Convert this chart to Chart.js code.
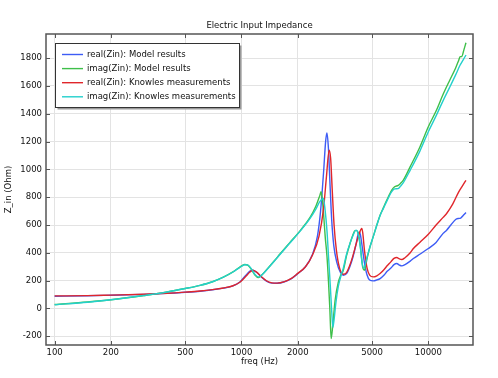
<!DOCTYPE html>
<html>
<head>
<meta charset="utf-8">
<script src="https://cdn.jsdelivr.net/npm/chart.js@4/dist/chart.umd.min.js"></script>
<style>
  body { margin: 0; background: #fff; }
  canvas { display: block; }
</style>
</head>
<body>
<canvas id="chart" width="498" height="378"></canvas>
<script>
const FONT = { family: 'DejaVu Sans', size: 8.5 };
const TEXT_COLOR = '#111111';
const GRID_COLOR = '#e3e3e3';
const FRAME_COLOR = '#555555';

const xTicks = [100, 200, 500, 1000, 2000, 5000, 10000];
const yTicks = [-200, 0, 200, 400, 600, 800, 1000, 1200, 1400, 1600, 1800];

// real(Zin) model
const realModelFreq = [100, 150, 200, 300, 400, 500, 600, 700, 800, 900, 980, 1050, 1110, 1150, 1200, 1280, 1360, 1450, 1550, 1700, 1850, 2000, 2200, 2400, 2550, 2650, 2750, 2820, 2866, 2920, 2980, 3040, 3120, 3240, 3380, 3508, 3650, 3800, 3950, 4100, 4200, 4276, 4330, 4400, 4550, 4700, 4850, 5081, 5300, 5518, 5800, 6000, 6300, 6550, 6776, 7000, 7210, 7500, 8000, 8318, 9000, 10000, 11000, 12000, 12530, 13200, 14000, 14450, 14900, 15400, 15900];
const realModel = [88, 91, 95, 101, 108, 116, 124, 134, 146, 162, 190, 235, 268, 275, 262, 225, 197, 182, 181, 192, 215, 250, 300, 390, 520, 700, 980, 1200, 1263, 1150, 880, 635, 450, 330, 260, 239, 250, 300, 370, 460, 530, 551, 530, 470, 330, 240, 205, 198, 205, 215, 240, 265, 290, 315, 323, 312, 306, 315, 340, 359, 390, 431, 475, 540, 563, 600, 640, 647, 650, 670, 690];

// imag(Zin) model
const imagModelFreq = [100, 150, 200, 300, 400, 500, 600, 700, 800, 900, 980, 1040, 1080, 1130, 1180, 1230, 1300, 1400, 1500, 1611, 1800, 2061, 2328, 2500, 2630, 2667, 2700, 2760, 2806, 2866, 2920, 2970, 3020, 3080, 3170, 3300, 3400, 3508, 3650, 3811, 3950, 4050, 4150, 4250, 4350, 4450, 4548, 4700, 4875, 5081, 5300, 5518, 5750, 5995, 6370, 6600, 6900, 7100, 7350, 8000, 9000, 10000, 11000, 12000, 13000, 14000, 14500, 14800, 15100, 15500, 15900];
const imagModel = [28, 46, 62, 93, 118, 143, 166, 192, 225, 263, 297, 316, 312, 280, 240, 222, 248, 297, 343, 393, 468, 560, 655, 735, 815, 839, 800, 650, 515, 380, 200, 0, -217, -120, 59, 190, 240, 275, 380, 467, 530, 560, 560, 520, 420, 300, 275, 360, 443, 520, 600, 671, 725, 779, 851, 875, 885, 900, 923, 1020, 1160, 1307, 1420, 1540, 1640, 1730, 1780, 1811, 1812, 1860, 1911];

// real(Zin) Knowles measurements
const realMeasFreq = [100, 150, 200, 300, 400, 500, 600, 700, 800, 900, 980, 1050, 1110, 1151, 1200, 1280, 1360, 1455, 1550, 1700, 1850, 2000, 2200, 2400, 2600, 2750, 2850, 2945, 3000, 3060, 3130, 3220, 3350, 3508, 3650, 3800, 3950, 4100, 4250, 4404, 4460, 4550, 4700, 4850, 5081, 5300, 5518, 5800, 6000, 6300, 6550, 6776, 7000, 7210, 7500, 8000, 8318, 9000, 10000, 11000, 12000, 12530, 13500, 14500, 15200, 15900];
const realMeas = [90, 92, 96, 102, 109, 117, 125, 135, 147, 163, 188, 228, 262, 275, 263, 228, 199, 184, 182, 193, 216, 252, 300, 385, 520, 720, 950, 1139, 1080, 850, 600, 420, 290, 246, 258, 310, 380, 460, 530, 575, 540, 420, 290, 240, 227, 235, 251, 280, 305, 335, 360, 366, 356, 352, 365, 400, 431, 475, 534, 600, 655, 683, 750, 835, 880, 922];

// imag(Zin) Knowles measurements
const imagMeasFreq = [100, 150, 200, 300, 400, 500, 600, 700, 800, 900, 980, 1040, 1080, 1130, 1180, 1240, 1300, 1400, 1500, 1611, 1800, 2061, 2328, 2500, 2630, 2745, 2806, 2866, 2930, 2990, 3040, 3083, 3130, 3200, 3300, 3400, 3508, 3650, 3811, 3950, 4103, 4180, 4300, 4420, 4520, 4700, 4875, 5081, 5300, 5518, 5750, 5995, 6370, 6600, 6900, 7100, 7350, 8000, 9000, 10000, 11000, 12000, 13000, 14000, 14800, 15400, 15900];
const imagMeas = [27, 45, 62, 93, 118, 143, 166, 192, 225, 262, 295, 314, 313, 285, 245, 225, 247, 295, 341, 390, 465, 556, 648, 715, 770, 791, 700, 563, 350, 155, -20, -137, -80, 40, 160, 230, 290, 390, 470, 525, 563, 550, 470, 330, 290, 370, 445, 520, 598, 668, 720, 772, 840, 860, 862, 880, 905, 995, 1130, 1271, 1385, 1495, 1590, 1680, 1751, 1790, 1823];

const seriesNames = ['real(Zin): Model results', 'imag(Zin): Model results', 'real(Zin): Knowles measurements', 'imag(Zin): Knowles measurements'];
const seriesColors = ['#3d5cf5', '#3fbf4a', '#e0262b', '#23d0cc'];

const toPoints = (fs, vs) => fs.map((f, i) => ({ x: f, y: vs[i] }));
const seriesData = [
  toPoints(realModelFreq, realModel),
  toPoints(imagModelFreq, imagModel),
  toPoints(realMeasFreq, realMeas),
  toPoints(imagMeasFreq, imagMeas),
];

// plot title, inward ticks and the boxed legend
const decorations = {
  id: 'decorations',
  afterDraw(chart) {
    const { ctx, chartArea: a, scales } = chart;
    ctx.save();
    ctx.fillStyle = TEXT_COLOR;
    ctx.font = `${FONT.size}px "${FONT.family}"`;
    ctx.textAlign = 'center';
    ctx.textBaseline = 'middle';
    ctx.fillText('Electric Input Impedance', (a.left + a.right) / 2, 26);

    ctx.strokeStyle = FRAME_COLOR;
    ctx.lineWidth = 1;
    ctx.beginPath();
    xTicks.forEach(v => {
      const x = Math.round(scales.x.getPixelForValue(v)) + 0.5;
      ctx.moveTo(x, a.bottom); ctx.lineTo(x, a.bottom - 4);
      ctx.moveTo(x, a.top); ctx.lineTo(x, a.top + 4);
    });
    yTicks.forEach(v => {
      const y = Math.round(scales.y.getPixelForValue(v)) + 0.5;
      ctx.moveTo(a.left, y); ctx.lineTo(a.left + 4, y);
      ctx.moveTo(a.right, y); ctx.lineTo(a.right - 4, y);
    });
    ctx.stroke();
    ctx.lineWidth = 1.5;
    ctx.strokeRect(a.left, a.top, a.right - a.left, a.bottom - a.top);

    // legend
    const lx = 55.5, ly = 43.5, lw = 184, lh = 64;
    ctx.fillStyle = '#9a9a9a';
    ctx.fillRect(lx + 2, ly + 2, lw, lh);
    ctx.fillStyle = '#ffffff';
    ctx.fillRect(lx, ly, lw, lh);
    ctx.strokeStyle = '#333333';
    ctx.lineWidth = 1;
    ctx.strokeRect(lx, ly, lw, lh);
    ctx.textAlign = 'left';
    seriesNames.forEach((name, i) => {
      const y = 54.5 + i * 14.1;
      ctx.strokeStyle = seriesColors[i];
      ctx.lineWidth = 1.4;
      ctx.beginPath();
      ctx.moveTo(62, y); ctx.lineTo(83, y);
      ctx.stroke();
      ctx.fillStyle = TEXT_COLOR;
      ctx.fillText(name, 87, y);
    });
    ctx.restore();
  }
};

new Chart(document.getElementById('chart'), {
  type: 'line',
  data: {
    datasets: seriesNames.map((name, i) => ({
      label: name,
      data: seriesData[i],
      borderColor: seriesColors[i],
      borderWidth: 1.4,
      pointRadius: 0,
      fill: false,
      cubicInterpolationMode: 'monotone',
      order: seriesNames.length - i, // later series drawn on top
    })),
  },
  options: {
    responsive: false,
    animation: false,
    layout: { padding: { top: 34, right: 25, left: 0, bottom: 0 } },
    plugins: {
      legend: { display: false },
      title: { display: false },
      tooltip: { enabled: false },
    },
    scales: {
      x: {
        type: 'logarithmic',
        min: 89.9,
        max: 17340,
        afterBuildTicks: s => { s.ticks = xTicks.map(v => ({ value: v })); },
        afterFit: s => { s.height = 33; },
        ticks: {
          callback: v => String(v),
          font: FONT, color: TEXT_COLOR, padding: 3,
          autoSkip: false, maxRotation: 0,
        },
        grid: { color: GRID_COLOR, drawTicks: false },
        border: { display: false },
        title: { display: true, text: 'freq (Hz)', font: FONT, color: TEXT_COLOR, padding: { top: 0, bottom: 11 } },
      },
      y: {
        min: -263,
        max: 1974,
        afterBuildTicks: s => { s.ticks = yTicks.map(v => ({ value: v })); },
        afterFit: s => { s.width = 46; },
        ticks: { callback: v => String(v), font: FONT, color: TEXT_COLOR, padding: 4 },
        grid: { color: GRID_COLOR, drawTicks: false },
        border: { display: false },
        title: { display: true, text: 'Z_in (Ohm)', font: FONT, color: TEXT_COLOR, padding: { top: 4, bottom: 0 } },
      },
    },
  },
  plugins: [decorations],
});
</script>
</body>
</html>
